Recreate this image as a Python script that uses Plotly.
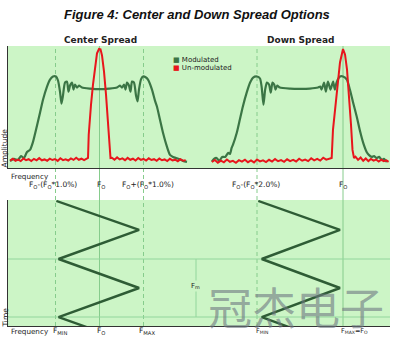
import plotly.graph_objects as go

# ---------------- spectrum data ----------------
# frequency offset in % of F0, relative amplitude (un-modulated peak = 1)

center_mod_f = [-2.034, -1.943, -1.852, -1.784, -1.716, -1.648, -1.580, -1.511, -1.443, -1.352,
                -1.284, -1.193, -1.125, -1.057, -0.989, -0.943, -0.898, -0.864, -0.830, -0.784,
                -0.739, -0.705, -0.670, -0.625, -0.591, -0.557, -0.511, -0.466, -0.398, -0.216,
                0.0, 0.216, 0.398, 0.466, 0.511, 0.557, 0.591, 0.625, 0.670, 0.705,
                0.739, 0.784, 0.830, 0.864, 0.898, 0.943, 0.989, 1.057, 1.102, 1.193,
                1.261, 1.307, 1.375, 1.443, 1.534, 1.602, 1.670, 1.739, 1.807, 1.898, 1.989]
center_mod_a = [0.059, 0.076, 0.068, 0.101, 0.084, 0.135, 0.152, 0.220, 0.321, 0.465,
                0.574, 0.684, 0.743, 0.769, 0.769, 0.735, 0.642, 0.541, 0.608, 0.718,
                0.726, 0.642, 0.693, 0.718, 0.659, 0.701, 0.676, 0.693, 0.676, 0.667,
                0.662, 0.667, 0.676, 0.693, 0.676, 0.701, 0.659, 0.718, 0.693, 0.642,
                0.726, 0.718, 0.608, 0.560, 0.660, 0.745, 0.769, 0.760, 0.743, 0.659,
                0.566, 0.515, 0.405, 0.296, 0.177, 0.110, 0.093, 0.084, 0.076, 0.059, 0.051]

center_floor_left_f = [-2.03, -1.97, -1.91, -1.85, -1.79, -1.73, -1.67, -1.61, -1.55, -1.49,
                       -1.43, -1.37, -1.31, -1.25, -1.19, -1.13, -1.07, -1.01, -0.95, -0.89,
                       -0.83, -0.77, -0.71, -0.65, -0.59, -0.53, -0.47, -0.41, -0.35, -0.29]
center_floor_left_a = [0.062, 0.078, 0.060, 0.071, 0.058, 0.080, 0.066, 0.074, 0.059, 0.077,
                       0.064, 0.083, 0.065, 0.072, 0.061, 0.079, 0.067, 0.075, 0.060, 0.082,
                       0.066, 0.073, 0.063, 0.080, 0.068, 0.086, 0.069, 0.078, 0.066, 0.081]
center_peak_f = [-0.261, -0.245, -0.227, -0.193, -0.148, -0.102, -0.057, -0.011, 0.023, 0.057,
                 0.102, 0.148, 0.193, 0.227, 0.250]
center_peak_a = [0.084, 0.279, 0.405, 0.532, 0.701, 0.861, 0.963, 1.000, 0.997, 0.946,
                 0.811, 0.617, 0.389, 0.194, 0.084]
center_floor_right_f = [0.28, 0.34, 0.40, 0.46, 0.52, 0.58, 0.64, 0.70, 0.76, 0.82,
                        0.88, 0.94, 1.00, 1.06, 1.12, 1.18, 1.24, 1.30, 1.36, 1.42,
                        1.48, 1.54, 1.60, 1.66, 1.72, 1.78, 1.84, 1.90, 1.96]
center_floor_right_a = [0.086, 0.070, 0.089, 0.072, 0.081, 0.066, 0.085, 0.069, 0.078, 0.063,
                        0.084, 0.068, 0.076, 0.062, 0.081, 0.067, 0.074, 0.060, 0.079, 0.065,
                        0.072, 0.058, 0.077, 0.064, 0.070, 0.057, 0.074, 0.061, 0.066]

down_mod_f = [-3.05, -3.00, -2.94, -2.88, -2.81, -2.74, -2.67, -2.63, -2.59, -2.56,
              -2.47, -2.40, -2.33, -2.24, -2.16, -2.09, -2.00, -1.93, -1.89, -1.85,
              -1.81, -1.77, -1.72, -1.68, -1.64, -1.60, -1.57, -1.53, -1.47, -1.23,
              -1.00, -0.77, -0.58, -0.53, -0.50, -0.44, -0.40, -0.35, -0.29, -0.23,
              -0.19, -0.15, -0.07, 0.00, 0.09, 0.16, 0.23, 0.32, 0.40, 0.47,
              0.55, 0.60, 0.67, 0.72, 0.78, 0.84, 0.90, 0.95, 1.02]
down_mod_a = [0.053, 0.076, 0.084, 0.059, 0.093, 0.093, 0.127, 0.118, 0.169, 0.194,
              0.296, 0.405, 0.515, 0.633, 0.718, 0.760, 0.769, 0.752, 0.676, 0.532,
              0.659, 0.718, 0.701, 0.633, 0.718, 0.701, 0.659, 0.693, 0.676, 0.667,
              0.665, 0.667, 0.676, 0.684, 0.659, 0.718, 0.642, 0.726, 0.659, 0.726,
              0.659, 0.718, 0.769, 0.769, 0.743, 0.659, 0.557, 0.431, 0.304, 0.211,
              0.135, 0.110, 0.093, 0.101, 0.084, 0.093, 0.068, 0.076, 0.051]

down_floor_left_f = [-3.05, -2.98, -2.91, -2.84, -2.77, -2.70, -2.63, -2.56, -2.49, -2.42,
                     -2.35, -2.28, -2.21, -2.14, -2.07, -2.00, -1.93, -1.86, -1.79, -1.72,
                     -1.65, -1.58, -1.51, -1.44, -1.37, -1.30, -1.23, -1.16, -1.09, -1.02,
                     -0.95, -0.88, -0.81, -0.74, -0.67, -0.60, -0.53, -0.46, -0.39, -0.32]
down_floor_left_a = [0.050, 0.068, 0.045, 0.062, 0.048, 0.071, 0.052, 0.060, 0.044, 0.066,
                     0.053, 0.070, 0.049, 0.063, 0.047, 0.072, 0.055, 0.064, 0.050, 0.069,
                     0.054, 0.075, 0.057, 0.066, 0.052, 0.073, 0.058, 0.068, 0.055, 0.078,
                     0.061, 0.071, 0.058, 0.082, 0.064, 0.076, 0.062, 0.086, 0.070, 0.080]
down_peak_f = [-0.263, -0.233, -0.186, -0.140, -0.070, 0.000, 0.047, 0.093, 0.140, 0.186,
               0.221, 0.256]
down_peak_a = [0.084, 0.321, 0.490, 0.659, 0.887, 1.000, 0.954, 0.828, 0.617, 0.363,
               0.152, 0.084]
down_floor_right_f = [0.29, 0.35, 0.41, 0.47, 0.53, 0.59, 0.65, 0.71, 0.77, 0.83,
                      0.89, 0.95, 1.01, 1.06]
down_floor_right_a = [0.095, 0.068, 0.088, 0.060, 0.080, 0.058, 0.076, 0.062, 0.071, 0.054,
                      0.069, 0.057, 0.064, 0.052]

# ---------------- modulation profile ----------------
# time in modulation periods, frequency offset in % of F0
wave_time = [2.0, 1.5, 1.0, 0.5, 0.0, -0.5]
center_wave_f = [-0.98, 0.90, -0.93, 0.90, -0.93, 0.90]
down_wave_f = [-1.97, -0.07, -1.89, -0.07, -1.89, -0.07]
period_marks = [0.0, 1.0]

# ---------------- axis labels ----------------
center_ticks = [-1.0, 0.0, 1.0]
center_tick_text = ["F<sub>O</sub>-(F<sub>O</sub>*1.0%)", "F<sub>O</sub>",
                    "F<sub>O</sub>+(F<sub>O</sub>*1.0%)"]
down_ticks = [-2.0, 0.0]
down_tick_text = ["F<sub>O</sub>-(F<sub>O</sub>*2.0%)", "F<sub>O</sub>"]
center_profile_text = ["F<sub>MIN</sub>", "F<sub>O</sub>", "F<sub>MAX</sub>"]
down_profile_text = ["F<sub>MIN</sub>", "F<sub>MAX</sub>=F<sub>O</sub>"]

# ---------------- styling ----------------
W, H = 396, 341
ML, MR = 8, 6
BG = "#ccf5c6"
MOD = "#3b7545"
UNMOD = "#e8161c"
WAVE = "#2e5c35"
GUIDE = "#86cc8c"
AXIS = "#333333"
FONT = "DejaVu Sans"

PW = W - ML - MR


def px_x(px):
    return (px - ML) / PW


def px_y(py):
    return (H - py) / H


XS = px_x(200)
TOP = [px_y(168), px_y(46)]
BOT = [px_y(326), px_y(200)]
CENTER_RANGE = [(8 - 99.5) / 44, (200 - 99.5) / 44]
DOWN_RANGE = [(200 - 343) / 43, (390 - 343) / 43]

fig = go.Figure()

center_unmod_f = center_floor_left_f + center_peak_f + center_floor_right_f
center_unmod_a = center_floor_left_a + center_peak_a + center_floor_right_a
down_unmod_f = down_floor_left_f + down_peak_f + down_floor_right_f
down_unmod_a = down_floor_left_a + down_peak_a + down_floor_right_a

fig.add_trace(go.Scatter(x=center_mod_f, y=center_mod_a, mode="lines", xaxis="x", yaxis="y",
                         line=dict(color=MOD, width=2.2, shape="spline", smoothing=0.6),
                         name="Modulated", showlegend=False))
fig.add_trace(go.Scatter(x=center_unmod_f, y=center_unmod_a, mode="lines", xaxis="x", yaxis="y",
                         line=dict(color=UNMOD, width=2), name="Un-modulated", showlegend=False))
fig.add_trace(go.Scatter(x=down_mod_f, y=down_mod_a, mode="lines", xaxis="x2", yaxis="y2",
                         line=dict(color=MOD, width=2.2, shape="spline", smoothing=0.6),
                         name="Modulated", showlegend=False))
fig.add_trace(go.Scatter(x=down_unmod_f, y=down_unmod_a, mode="lines", xaxis="x2", yaxis="y2",
                         line=dict(color=UNMOD, width=2), name="Un-modulated", showlegend=False))
fig.add_trace(go.Scatter(x=center_wave_f, y=wave_time, mode="lines", xaxis="x3", yaxis="y3",
                         line=dict(color=WAVE, width=2.4), showlegend=False))
fig.add_trace(go.Scatter(x=down_wave_f, y=wave_time, mode="lines", xaxis="x4", yaxis="y4",
                         line=dict(color=WAVE, width=2.4), showlegend=False))

shapes = []
# panel backgrounds
for dom in (TOP, BOT):
    shapes.append(dict(type="rect", xref="paper", yref="paper", x0=0, x1=1, y0=dom[0], y1=dom[1],
                       fillcolor=BG, line=dict(width=0), layer="below"))
# frequency guides running through both panels
for xr, vals in (("x", center_ticks), ("x2", down_ticks)):
    for v in vals:
        shapes.append(dict(type="line", xref=xr, yref="paper", x0=v, x1=v, y0=BOT[0], y1=TOP[1],
                           line=dict(color=GUIDE, width=1, dash="solid" if v == 0 else "4px,3px"),
                           layer="below"))
# modulation period marks
for t in period_marks:
    shapes.append(dict(type="line", xref="paper", yref="y3", x0=0, x1=1, y0=t, y1=t,
                       line=dict(color="#92d69c", width=1), layer="below"))
# Fm span
fm_x = (196 - 99.5) / 44
shapes.append(dict(type="line", xref="x3", yref="y3", x0=fm_x, x1=fm_x,
                   y0=period_marks[0], y1=period_marks[1],
                   line=dict(color="#92d69c", width=1), layer="below"))

anns = []


def ann(text, px, py, size, **kw):
    d = dict(text=text, x=px_x(px), y=px_y(py), xref="paper", yref="paper", showarrow=False,
             xanchor="center", yanchor="middle",
             font=dict(family=FONT, size=size, color="#222222"))
    d.update(kw)
    return d


anns.append(ann("<b><i>Figure 4: Center and Down Spread Options</i></b>", 197, 15, 13,
                font=dict(family="Liberation Sans", size=13, color="#111111")))
anns.append(ann("<b>Center Spread</b>", 100, 40, 9))
anns.append(ann("<b>Down Spread</b>", 301, 40, 9))
anns.append(ann(f"<span style='color:{MOD}'>■</span> Modulated", 171, 60, 7, xanchor="left"))
anns.append(ann(f"<span style='color:{UNMOD}'>■</span> Un-modulated", 171, 68, 7, xanchor="left"))
anns.append(ann("Amplitude", 4.5, 148, 7.5, textangle=-90))
anns.append(ann("Frequency", 9, 176, 7.2, xanchor="left"))
anns.append(ann("Time", 4.5, 318, 7.5, textangle=-90))
anns.append(ann("Frequency", 9, 331, 7.2, xanchor="left"))
anns.append(ann("F<sub>m</sub>", 195, 286, 7, bgcolor=BG))


def tick_ann(text, xref, v, py, size, shift):
    return dict(text=text, x=v, xref=xref, y=px_y(py), yref="paper", showarrow=False,
                xanchor="center", yanchor="middle", xshift=shift,
                font=dict(family=FONT, size=size, color="#222222"))


for v, t, s in zip(center_ticks, center_tick_text, (-3, 1.5, 4.5)):
    anns.append(tick_ann(t, "x", v, 185, 7.5, s))
for v, t, s in zip(down_ticks, down_tick_text, (-1, 0)):
    anns.append(tick_ann(t, "x2", v, 185, 7.5, s))
for v, t, s in zip(center_ticks, center_profile_text, (4.5, 1.5, 3.5)):
    anns.append(tick_ann(t, "x3", v, 331, 7.5, s))
for v, t, s in zip(down_ticks, down_profile_text, (5, 11)):
    anns.append(tick_ann(t, "x4", v, 331, 6.5, s))

anns.append(ann("冠杰电子", 296, 306, 44,
                font=dict(family="Noto Sans CJK SC", size=44, color="rgba(110,120,130,0.62)")))

ax_common = dict(showgrid=False, zeroline=False, showticklabels=False, ticks="",
                 linecolor=AXIS, linewidth=1, fixedrange=True)

fig.update_layout(
    width=W, height=H,
    margin=dict(l=ML, r=MR, t=0, b=0),
    paper_bgcolor="white", plot_bgcolor="rgba(0,0,0,0)",
    showlegend=False,
    xaxis=dict(domain=[0, XS], range=CENTER_RANGE, anchor="y", showline=True, **ax_common),
    yaxis=dict(domain=TOP, range=[0, 1.025], anchor="x", showline=True, **ax_common),
    xaxis2=dict(domain=[XS, 1], range=DOWN_RANGE, anchor="y2", showline=True, **ax_common),
    yaxis2=dict(domain=TOP, range=[0, 1.025], anchor="x2", showline=False, **ax_common),
    xaxis3=dict(domain=[0, XS], range=CENTER_RANGE, anchor="y3", showline=True, **ax_common),
    yaxis3=dict(domain=BOT, range=[-0.155, 2.017], anchor="x3", showline=True, **ax_common),
    xaxis4=dict(domain=[XS, 1], range=DOWN_RANGE, anchor="y4", showline=True, **ax_common),
    yaxis4=dict(domain=BOT, range=[-0.155, 2.017], anchor="x4", showline=False, **ax_common),
    shapes=shapes,
    annotations=anns,
)

fig.write_html("out.html")
